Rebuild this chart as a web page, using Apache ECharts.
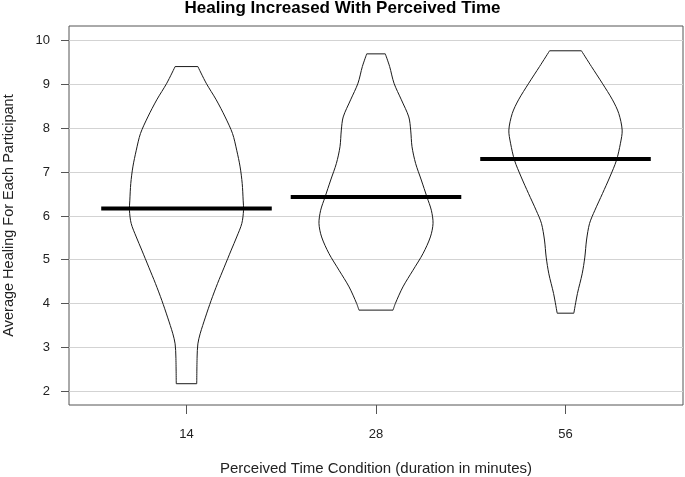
<!DOCTYPE html>
<html>
<head>
<meta charset="utf-8">
<script src="https://cdn.jsdelivr.net/npm/echarts@6/dist/echarts.min.js"></script>
<style>
html,body{margin:0;padding:0;background:#fff;}
#chart{width:685px;height:477px;}
</style>
</head>
<body>
<div id="chart"></div>
<script>
// ---- data ----
const categories = ['14', '28', '56'];
const means = [6.17, 6.43, 7.30];
const yTicks = [2, 3, 4, 5, 6, 7, 8, 9, 10];

// violin outlines: healing value and density half-width (in category units), top to bottom
const violin14Values = [9.41, 9.03, 8.65, 8.26, 7.88, 7.50, 7.12, 6.74, 6.36, 6.13, 5.83, 5.52, 5.22, 4.83, 4.46, 4.07, 3.69, 3.31, 3.08, 2.78, 2.17];
const violin14Widths = [0.060, 0.104, 0.157, 0.204, 0.243, 0.265, 0.283, 0.294, 0.299, 0.301, 0.292, 0.265, 0.236, 0.199, 0.164, 0.130, 0.100, 0.072, 0.060, 0.056, 0.054];

const violin28Values = [9.70, 9.41, 9.03, 8.65, 8.26, 7.96, 7.58, 7.20, 6.82, 6.43, 6.13, 5.83, 5.52, 5.14, 4.76, 4.38, 4.00, 3.85];
const violin28Widths = [0.049, 0.072, 0.095, 0.134, 0.173, 0.183, 0.190, 0.209, 0.239, 0.269, 0.292, 0.301, 0.287, 0.248, 0.195, 0.142, 0.102, 0.090];

const violin56Values = [9.77, 9.41, 9.03, 8.65, 8.34, 7.96, 7.66, 7.27, 6.89, 6.51, 6.13, 5.83, 5.45, 5.06, 4.68, 4.23, 3.78];
const violin56Widths = [0.084, 0.137, 0.194, 0.248, 0.281, 0.299, 0.290, 0.269, 0.234, 0.195, 0.155, 0.127, 0.111, 0.102, 0.088, 0.063, 0.044];

const violinValues = [violin14Values, violin28Values, violin56Values];
const violinWidths = [violin14Widths, violin28Widths, violin56Widths];

const chart = echarts.init(document.getElementById('chart'), null, {renderer: 'canvas'});
const FONT = 'Liberation Sans, Arial, Helvetica, sans-serif';
const positions = categories.map((c, i) => i + 1);
const OUTLINE = {fill: 'none', stroke: '#1a1a1a', lineWidth: 1};

chart.setOption({
  animation: false,
  backgroundColor: '#ffffff',
  title: {
    text: 'Healing Increased With Perceived Time',
    left: 'center',
    top: 0,
    padding: 0,
    textStyle: {fontFamily: FONT, fontWeight: 'bold', fontSize: 17, color: '#000'}
  },
  grid: {
    left: 69, right: 2, top: 26, bottom: 72,
    outerBoundsMode: 'none',
    containLabel: false,
    show: true, borderColor: '#555', borderWidth: 1, backgroundColor: 'transparent'
  },
  xAxis: {
    type: 'value',
    min: 0.38, max: 3.62,
    name: 'Perceived Time Condition (duration in minutes)',
    nameLocation: 'middle',
    nameGap: 56,
    nameTextStyle: {fontFamily: FONT, fontSize: 15, color: '#222'},
    axisLine: {show: false},
    axisTick: {show: true, customValues: positions, length: 9, lineStyle: {color: '#555'}},
    axisLabel: {
      customValues: positions, margin: 23,
      fontFamily: FONT, fontSize: 13, color: '#222',
      formatter: v => categories[Math.round(v) - 1]
    },
    splitLine: {show: false}
  },
  yAxis: {
    type: 'value',
    min: 1.684, max: 10.336,
    name: 'Average Healing For Each Participant',
    nameLocation: 'middle',
    nameGap: 53,
    nameTextStyle: {fontFamily: FONT, fontSize: 14.5, color: '#222'},
    axisLine: {show: false},
    axisTick: {show: true, customValues: yTicks, length: 8, lineStyle: {color: '#555'}},
    axisLabel: {customValues: yTicks, margin: 19, fontFamily: FONT, fontSize: 13, color: '#222'},
    splitLine: {show: true, lineStyle: {color: '#d3d3d3', width: 1.2}}
  },
  series: [
    {
      type: 'custom',
      name: 'violins',
      data: positions,
      clip: true,
      renderItem: function (params, api) {
        const i = params.dataIndex;
        const cx = positions[i];
        const ys = violinValues[i], ws = violinWidths[i];
        const left = [], right = [];
        for (let k = 0; k < ys.length; k++) {
          left.push(api.coord([cx - ws[k], ys[k]]));
          right.push(api.coord([cx + ws[k], ys[k]]));
        }
        const n = ys.length - 1;
        return {
          type: 'group',
          children: [
            {type: 'polyline', shape: {points: left, smooth: 0.3}, style: OUTLINE},
            {type: 'polyline', shape: {points: right, smooth: 0.3}, style: OUTLINE},
            {type: 'line', shape: {x1: left[0][0], y1: left[0][1], x2: right[0][0], y2: right[0][1]}, style: OUTLINE},
            {type: 'line', shape: {x1: left[n][0], y1: left[n][1], x2: right[n][0], y2: right[n][1]}, style: OUTLINE}
          ]
        };
      }
    },
    {
      type: 'custom',
      name: 'means',
      data: means.map((m, i) => [positions[i], m]),
      renderItem: function (params, api) {
        const x = api.value(0), y = api.value(1);
        const p1 = api.coord([x - 0.45, y]);
        const p2 = api.coord([x + 0.45, y]);
        return {
          type: 'line',
          shape: {x1: p1[0], y1: p1[1], x2: p2[0], y2: p2[1]},
          style: {stroke: '#000', lineWidth: 4}
        };
      }
    }
  ]
});
</script>
</body>
</html>
